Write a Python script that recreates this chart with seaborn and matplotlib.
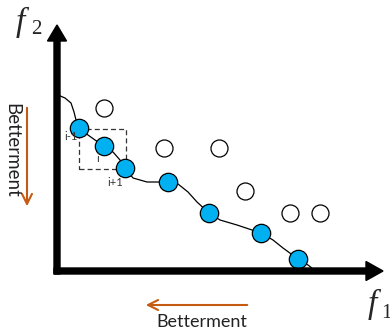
import numpy as np
import pandas as pd
import matplotlib
matplotlib.use('Agg')
import matplotlib.pyplot as plt
import seaborn as sns
from matplotlib.patches import Rectangle

# Pareto front points (filled) and dominated solutions (open), in f1/f2 units
front_f1 = [22, 47, 68, 111, 152, 204, 241]
front_f2 = [143, 125, 103, 89, 58, 38, 12]
other_f1 = [47, 107, 162, 188, 233, 263]
other_f2 = [163, 123, 123, 80, 58, 58]

# traced front curve
curve_f1 = [1, 8, 14, 17, 19, 22, 31, 38, 47, 56, 63, 68, 76, 90, 96, 111,
            121, 131, 140, 152, 163, 180, 204, 216, 226, 241, 251, 260]
curve_f2 = [176, 173, 168, 159, 151, 143, 136, 131, 125, 119, 111, 103, 93, 89, 89, 89,
            87, 79, 69, 58, 51, 46, 38, 31, 23, 12, 6, -1]

point_labels = ['i-1', 'i', 'i+1']

front = pd.DataFrame({'f1': front_f1, 'f2': front_f2})
others = pd.DataFrame({'f1': other_f1, 'f2': other_f2})
curve = pd.DataFrame({'f1': curve_f1, 'f2': curve_f2})

sns.set_style('white')
fig = plt.figure(figsize=(3.9, 3.31), dpi=100)
ax = fig.add_axes([0, 0, 1, 1])
ax.set_xlim(-57, 333)
ax.set_ylim(-60, 271)
ax.axis('off')

brown = '#C55A11'
blue = '#00B0F0'

# axes with arrow heads
ax.arrow(0, -3, 0, 249, width=6, head_width=19, head_length=16,
         length_includes_head=True, color='black', zorder=5)
ax.arrow(-3, 0, 329, 0, width=6, head_width=19, head_length=17,
         length_includes_head=True, color='black', zorder=5)

sns.lineplot(data=curve, x='f1', y='f2', sort=False, color='black', lw=0.9,
             ax=ax, zorder=2)

# neighbourhood box around point i
ax.add_patch(Rectangle((22, 102), 47, 40, fill=False, ls=(0, (4, 2.5)),
                       lw=0.9, ec='#333333', zorder=1))

sns.scatterplot(data=others, x='f1', y='f2', s=150, color='white',
                edgecolor='black', linewidth=0.9, ax=ax, zorder=3)
sns.scatterplot(data=front, x='f1', y='f2', s=175, color=blue,
                edgecolor='black', linewidth=0.9, ax=ax, zorder=4)

for lab, (x, y) in zip(point_labels, [(14, 134), (41, 113), (58, 89)]):
    ax.text(x, y, lab, fontsize=8, ha='center', va='center', color='#333333',
            family='Lato', zorder=6)

# betterment arrows
ax.annotate('', xy=(-30, 62), xytext=(-30, 166),
            arrowprops=dict(arrowstyle='->', color=brown, lw=1.5, mutation_scale=18))
ax.annotate('', xy=(86, -34), xytext=(193, -34),
            arrowprops=dict(arrowstyle='->', color=brown, lw=1.5, mutation_scale=18))
ax.text(-45, 121, 'Betterment', rotation=-90, fontsize=13.5, family='Lato',
        ha='center', va='center', color='#222222')
ax.text(145, -51, 'Betterment', fontsize=13, family='Lato',
        ha='center', va='center', color='#222222')

# axis names
ax.text(-37, 249, 'f', fontsize=24, family='Liberation Serif', style='italic',
        ha='center', va='center')
ax.text(-21, 241, '2', fontsize=15, family='Liberation Serif', ha='center', va='center')
ax.text(315, -33, 'f', fontsize=24, family='Liberation Serif', style='italic',
        ha='center', va='center')
ax.text(329, -42, '1', fontsize=15, family='Liberation Serif', ha='center', va='center')

fig.savefig('out.png', dpi=100)
